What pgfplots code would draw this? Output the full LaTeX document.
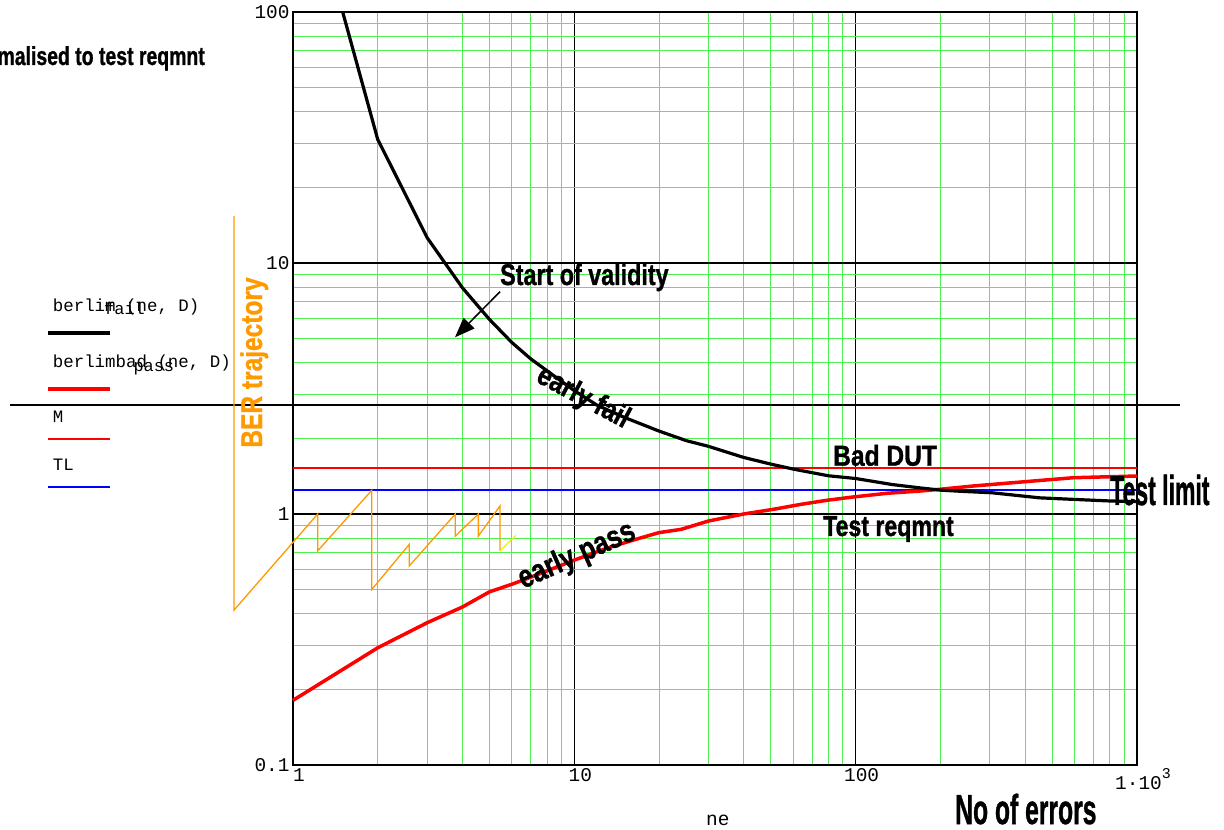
\documentclass[border=0pt]{standalone}
\usepackage{pgfplots}
\pgfplotsset{compat=1.18}
\usepackage{graphicx}
\usepackage{fontspec}
\setmainfont{Liberation Sans}
\setmonofont{Liberation Mono}
\newfontfamily\heavy{Liberation Sans}[UprightFont=*-Bold, FakeBold=1.2]
\usetikzlibrary{arrows.meta}
\definecolor{gridgreen}{RGB}{80,240,80}
\definecolor{trajorange}{RGB}{255,153,0}
\definecolor{trajyellow}{RGB}{240,240,0}
\newcommand{\bl}[3]{\scalebox{#2}[1]{\fontsize{#1}{#1}\selectfont\heavy #3}}
\newcommand{\mono}{\fontsize{19.5}{19.5}\selectfont\ttfamily}
\newcommand{\legmono}{\fontsize{17.5}{17.5}\selectfont\ttfamily}
\newcommand{\monosub}{\fontsize{17}{17}\selectfont\ttfamily}
\begin{document}
\begin{tikzpicture}
\begin{axis}[
  scale only axis, width=844bp, height=753bp,
  at={(293bp,65bp)}, anchor=south west,
  xmode=log, ymode=log,
  xmin=1, xmax=1000, ymin=0.1, ymax=100,
  clip=false,
  grid=both,
  major grid style={black, line width=1.2bp},
  minor grid style={gridgreen, line width=1bp},
  axis line style={black, line width=2.6bp},
  major tick length=0pt, minor tick length=0pt,
  xtick={1,10,100,1000}, ytick={0.1,1,10,100},
  xticklabels={1,10,100,{1·10\raisebox{0.55em}{\fontsize{15}{15}\selectfont 3}}},
  yticklabels={0.1,1,10,100},
  ticklabel style={font=\mono},
  xticklabel style={xshift=6bp},
]
% black horizontal line at e, extends beyond the axis
\addplot[black, line width=1.3bp] coordinates {(0.0986,2.718) (1423,2.718)};
% M and TL
\addplot[red, line width=1.3bp] coordinates {(1,1.525) (1000,1.525)};
\addplot[blue, line width=1.3bp] coordinates {(1,1.246) (1000,1.246)};
% BER trajectory
\addplot[trajorange, line width=1.3bp] coordinates {
 (0.617,15.4) (0.617,0.414) (1.224,1.0) (1.224,0.713) (1.905,1.243) (1.905,0.50)
 (2.59,0.757) (2.59,0.621) (3.776,1.0) (3.776,0.817) (4.56,1.0) (4.56,0.817)
 (5.44,1.076) (5.44,0.713)};
\addplot[trajyellow, line width=1.3bp] coordinates {(5.44,0.713) (6.2,0.822)};
% early pass (red)
\addplot[red, line width=3.5bp] coordinates {
 (1,0.181) (2,0.293) (3,0.369) (4,0.426) (5,0.49) (6,0.525) (7,0.56)
 (10,0.655) (13,0.73) (17,0.8) (20,0.843) (24,0.869) (30,0.938) (40,1.0)
 (51,1.044) (64,1.093) (79,1.134) (98,1.169) (130,1.21) (170,1.235)
 (200,1.255) (262,1.293) (426,1.353) (594,1.395) (1000,1.417)};
% early fail (black)
\addplot[black, line width=3.2bp] coordinates {
 (1.502,100) (2,31.1) (3,12.6) (4,7.97) (5,5.95) (6,4.82) (7,4.15) (8,3.72)
 (10,3.1) (12,2.72) (15,2.43) (20,2.14) (25,1.96) (30,1.86) (40,1.68)
 (50,1.58) (60,1.51) (80,1.42) (100,1.385) (135,1.31) (170,1.27) (200,1.245)
 (235,1.232) (305,1.215) (450,1.16) (600,1.143) (800,1.127) (1000,1.12)};
\end{axis}
% legend
\node[anchor=base west, inner sep=0, font=\legmono] at (52.7bp,518.3bp) {berlim (ne, D)};
\node[anchor=base west, inner sep=0, font=\monosub] at (104bp,515bp) {fail};
\draw[line width=4bp, black] (48bp,497.3bp) -- (110bp,497.3bp);
\node[anchor=base west, inner sep=0, font=\legmono] at (52.7bp,462.7bp) {berlimbad (ne, D)};
\node[anchor=base west, inner sep=0, font=\monosub] at (133.3bp,458.3bp) {pass};
\draw[line width=4bp, red] (48bp,441.3bp) -- (110bp,441.3bp);
\node[anchor=base west, inner sep=0, font=\legmono] at (52.7bp,407.3bp) {M};
\draw[line width=1.3bp, red] (48bp,391bp) -- (110bp,391bp);
\node[anchor=base west, inner sep=0, font=\legmono] at (52.7bp,359.3bp) {TL};
\draw[line width=1.3bp, blue] (48bp,343bp) -- (110bp,343bp);
% annotations
\node[anchor=base west, inner sep=0] at (500bp,545bp) {\bl{30}{0.78}{Start of validity}};
\draw[line width=1.5bp, -{Triangle[length=20bp,width=15bp]}] (500bp,538.3bp) -- (455bp,492.7bp);
\node[inner sep=0, rotate=-28] at (583bp,432bp) {\bl{30}{0.83}{early fail}};
\node[inner sep=0, rotate=24] at (577bp,274bp) {\bl{32}{0.8}{early pass}};
\node[anchor=base west, inner sep=0] at (833bp,364.3bp) {\bl{29}{0.85}{Bad DUT}};
\node[anchor=base west, inner sep=0] at (823bp,294bp) {\bl{29}{0.8}{Test reqmnt}};
\node[anchor=base west, inner sep=0] at (1110bp,325bp) {\bl{42}{0.55}{Test limit}};
\node[anchor=base west, inner sep=0] at (955bp,6bp) {\bl{42}{0.59}{No of errors}};
\node[anchor=base east, inner sep=0] at (205bp,765bp) {\bl{26}{0.75}{normalised to test reqmnt}};
\node[anchor=base west, inner sep=0, font=\mono] at (706bp,5bp) {ne};
\node[anchor=base, inner sep=0, rotate=90, text=trajorange] at (262bp,467.5bp) {\bl{30}{0.82}{BER trajectory}};
\pgfresetboundingbox
\useasboundingbox (0,0) rectangle (1224bp,830bp);
\end{tikzpicture}
\end{document}
